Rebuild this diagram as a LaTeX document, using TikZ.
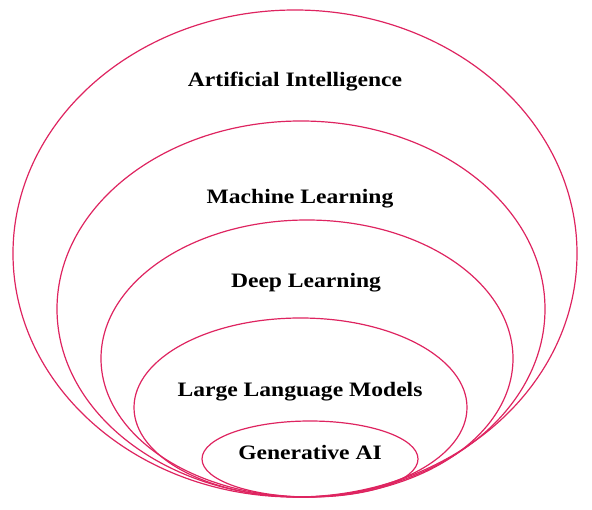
\documentclass[tikz,border=0pt]{standalone}
\usepackage{fontspec}
\setmainfont{Liberation Serif}[FakeStretch=1.15]
\definecolor{rosa}{RGB}{222,36,96}
\tikzset{
  capa/.style={draw=rosa,line width=1.2pt},
  etiqueta/.style={font=\bfseries\fontsize{20.5}{24}\selectfont,text=black,inner sep=0pt}
}
\begin{document}
\begin{tikzpicture}[x=1pt,y=-1pt]
\useasboundingbox (0,0) rectangle (592,510);
% Elipses anidadas, todas tocan abajo
\draw[capa] (295,253.5) ellipse [x radius=282pt,y radius=243.5pt];
\draw[capa] (301,309) ellipse [x radius=244pt,y radius=188pt];
\draw[capa] (307,358.5) ellipse [x radius=206pt,y radius=138.5pt];
\draw[capa] (300.5,407.5) ellipse [x radius=166.5pt,y radius=89.5pt];
\draw[capa] (310,459) ellipse [x radius=108pt,y radius=38pt];
% Etiquetas de cada capa
\node[etiqueta] (ia) at (295,82) {Artificial Intelligence};
\node[etiqueta] (ml) at (300,199) {Machine Learning};
\node[etiqueta] (dl) at (306,283) {Deep Learning};
\node[etiqueta] (llm) at (300,392) {Large Language Models};
\node[etiqueta] (gen) at (310,452) {Generative AI};
\end{tikzpicture}
\end{document}
